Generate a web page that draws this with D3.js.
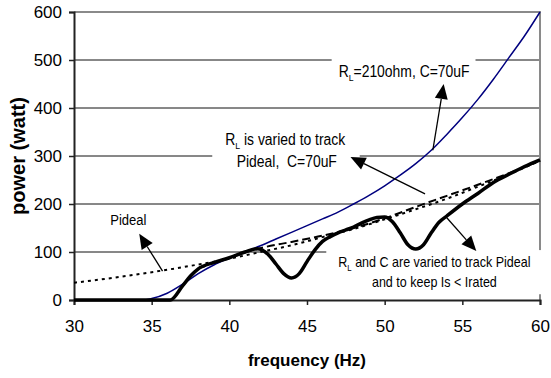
<!DOCTYPE html>
<html>
<head>
<meta charset="utf-8">
<script src="https://cdn.jsdelivr.net/npm/d3@7"></script>
<style>
  body { margin: 0; background: #fff; }
  svg { display: block; font-family: Arial, "Liberation Sans", sans-serif; }
</style>
</head>
<body>
<svg width="551" height="378"></svg>
<script>
// Tick values
const freqTicks = [30, 35, 40, 45, 50, 55, 60];
const powerTicks = [0, 100, 200, 300, 400, 500, 600];

// RL=210ohm, C=70uF (blue)
const fixedFreq = [30, 34.4, 35, 36, 37, 38, 39, 40, 41, 42, 43, 44, 45, 46, 47, 48, 49, 50, 51, 52, 53, 54, 55, 56, 57, 58, 59, 60];
const fixedPower = [0, 0, 3, 14, 33, 55, 73, 87, 100, 113, 127, 141, 155, 169, 183, 200, 218, 238, 260, 284, 312, 345, 380, 418, 460, 505, 550, 600];

// Pideal (dotted)
const idealFreq = [30, 32, 34, 36, 38, 40, 42, 44, 46, 48, 50, 52, 54, 56, 58, 60];
const idealPower = [36, 44, 53, 63, 74, 86, 100, 114, 131, 148, 168, 189, 211, 236, 262, 290];

// RL varied, C=70uF (dashed)
const rlFreq = [38, 40, 42, 44, 46, 48, 50, 52, 54, 56, 58, 60];
const rlPower = [66, 88, 108, 121, 134, 150, 170, 194, 217, 240, 264, 290];

// RL and C varied, Is < Irated (thick black)
const rlcFreq = [30, 36.2, 37, 37.5, 38, 39, 40, 41, 41.8, 42.5, 43, 43.5, 44, 44.5, 45, 45.5, 46, 46.5, 47, 47.5, 48, 48.5, 49, 49.5, 50, 50.5, 51, 51.5, 52, 52.5, 53, 53.5, 54, 55, 56, 57, 58, 59, 60];
const rlcPower = [0, 0, 30, 50, 65, 78, 88, 100, 107, 95, 75, 55, 46, 55, 80, 104, 122, 132, 140, 146, 152, 160, 167, 172, 173, 163, 140, 115, 106, 115, 140, 162, 175, 200, 222, 245, 262, 278, 292];

// Annotations (positions in data units)
const notes = [
  { size: 16, lines: [{ t: ['R', 'L', '=210ohm, C=70uF'], f: 51.25, p: 465 }], pad: [7, 6, 6, 4] },
  { size: 16, lines: [{ t: ['R', 'L', ' is varied to track'], f: 43.6, p: 323 }, { t: ['Pideal,  C=70uF'], f: 43.7, p: 277 }], pad: [13, 14, 6, 4] },
  { size: 15, lines: [{ t: ['Pideal'], f: 33.5, p: 156 }], pad: null },
  { size: 14.4, lines: [{ t: ['R', 'L', ' and C are varied to track Pideal'], f: 53.2, p: 69 }, { t: ['and to keep Is < Irated'], f: 53.2, p: 27 }], pad: [12, 11, 4, 4] }
];
const arrows = [
  { from: [53.1, 312], to: [53.8, 450] },
  { from: [52.6, 221], to: [47.8, 298] },
  { from: [35.7, 60], to: [34.2, 138] },
  { from: [53.9, 175], to: [55.9, 102] }
];

const width = 551;
const height = 378;
const padding = { top: 12, right: 11, bottom: 78, left: 74 };
const textScale = 0.87; // the original lettering is a little condensed
const svg = d3.select('svg');

const xScale = d3.scaleLinear()
  .domain([30, 60])
  .range([padding.left, width - padding.right]);
const yScale = d3.scaleLinear()
  .domain([0, 600])
  .range([height - padding.bottom, padding.top]);

// Gridlines
svg.append('g')
  .selectAll('line')
  .data(powerTicks.filter(d => d > 0 && d < 600))
  .join('line')
  .attr('x1', xScale(30))
  .attr('x2', xScale(60))
  .attr('y1', d => yScale(d))
  .attr('y2', d => yScale(d))
  .attr('stroke', '#111')
  .attr('stroke-width', 1);

// Top and right border (grey)
svg.append('path')
  .attr('d', `M${xScale(30)},${yScale(600)}H${xScale(60)}V${yScale(0)}`)
  .attr('fill', 'none')
  .attr('stroke', '#8a8a8a')
  .attr('stroke-width', 2);

// Axes
const xAxis = d3.axisBottom(xScale).tickValues(freqTicks).tickSize(5).tickPadding(15);
const yAxis = d3.axisLeft(yScale).tickValues(powerTicks).tickSize(5).tickPadding(7);
const gx = svg.append('g')
  .attr('transform', `translate(0, ${yScale(0)})`)
  .call(xAxis);
const gy = svg.append('g')
  .attr('transform', `translate(${xScale(30)}, 0)`)
  .call(yAxis);
[gx, gy].forEach(g => {
  g.select('.domain').attr('stroke', '#222').attr('stroke-width', 2);
  g.selectAll('.tick line').attr('stroke', '#222').attr('stroke-width', 1.5);
  g.selectAll('.tick text').style('font-size', '17px').attr('fill', '#000')
    .style('font-family', 'Arial, "Liberation Sans", sans-serif');
});

// Axis titles
svg.append('text')
  .text('frequency (Hz)')
  .attr('x', (xScale(30) + xScale(60)) / 2)
  .attr('y', 366)
  .style('text-anchor', 'middle')
  .style('font-size', '17px')
  .style('font-weight', 'bold');
svg.append('text')
  .text('power (watt)')
  .attr('x', -(yScale(0) + yScale(600)) / 2)
  .attr('y', 25)
  .attr('transform', 'rotate(-90)')
  .style('text-anchor', 'middle')
  .style('font-size', '20px')
  .style('font-weight', 'bold');

// Layers: white label boxes under the curves, text on top
const boxG = svg.append('g');
const curveG = svg.append('g');
const noteG = svg.append('g');

notes.forEach(n => {
  const g = noteG.append('g');
  n.lines.forEach(l => {
    const t = g.append('text')
      .attr('transform', `translate(${xScale(l.f)},${yScale(l.p)}) scale(${textScale},1)`)
      .style('text-anchor', 'middle')
      .style('white-space', 'pre')
      .style('font-size', n.size + 'px');
    if (l.t.length === 3) {
      t.append('tspan').text(l.t[0]);
      t.append('tspan').text(l.t[1]).attr('dy', 4).style('font-size', (n.size * 0.62) + 'px');
      t.append('tspan').text(l.t[2]).attr('dy', -4);
    } else {
      t.text(l.t[0]);
    }
  });
  if (n.pad) {
    const b = g.node().getBBox();
    boxG.append('rect')
      .attr('fill', '#fff')
      .attr('x', b.x - n.pad[0])
      .attr('y', b.y - n.pad[2])
      .attr('width', b.width + n.pad[0] + n.pad[1])
      .attr('height', b.height + n.pad[2] + n.pad[3]);
  }
});

// Curves
const line = d3.line()
  .x(d => xScale(d[0]))
  .y(d => yScale(d[1]))
  .curve(d3.curveMonotoneX);
const zip = (a, b) => a.map((v, i) => [v, b[i]]);

curveG.append('path')
  .datum(zip(idealFreq, idealPower))
  .attr('d', line)
  .attr('fill', 'none')
  .attr('stroke', '#000')
  .attr('stroke-width', 2)
  .attr('stroke-dasharray', '3,4');
curveG.append('path')
  .datum(zip(rlFreq, rlPower))
  .attr('d', line)
  .attr('fill', 'none')
  .attr('stroke', '#000')
  .attr('stroke-width', 2)
  .attr('stroke-dasharray', '8,4');
curveG.append('path')
  .datum(zip(fixedFreq, fixedPower))
  .attr('d', line)
  .attr('fill', 'none')
  .attr('stroke', '#00007f')
  .attr('stroke-width', 1.5);
curveG.append('path')
  .datum(zip(rlcFreq, rlcPower))
  .attr('d', line)
  .attr('fill', 'none')
  .attr('stroke', '#000')
  .attr('stroke-width', 3.5)
  .attr('stroke-linejoin', 'round');

// Arrows
arrows.forEach(a => {
  const x1 = xScale(a.from[0]), y1 = yScale(a.from[1]);
  const x2 = xScale(a.to[0]), y2 = yScale(a.to[1]);
  const ang = Math.atan2(y2 - y1, x2 - x1);
  const len = 15, half = 6.5;
  const bx = x2 - len * Math.cos(ang), by = y2 - len * Math.sin(ang);
  noteG.append('line')
    .attr('x1', x1).attr('y1', y1)
    .attr('x2', bx).attr('y2', by)
    .attr('stroke', '#000')
    .attr('stroke-width', 1.3);
  noteG.append('path')
    .attr('d', `M${x2},${y2}L${bx + half * Math.sin(ang)},${by - half * Math.cos(ang)}L${bx - half * Math.sin(ang)},${by + half * Math.cos(ang)}Z`)
    .attr('fill', '#000');
});
</script>
</body>
</html>
